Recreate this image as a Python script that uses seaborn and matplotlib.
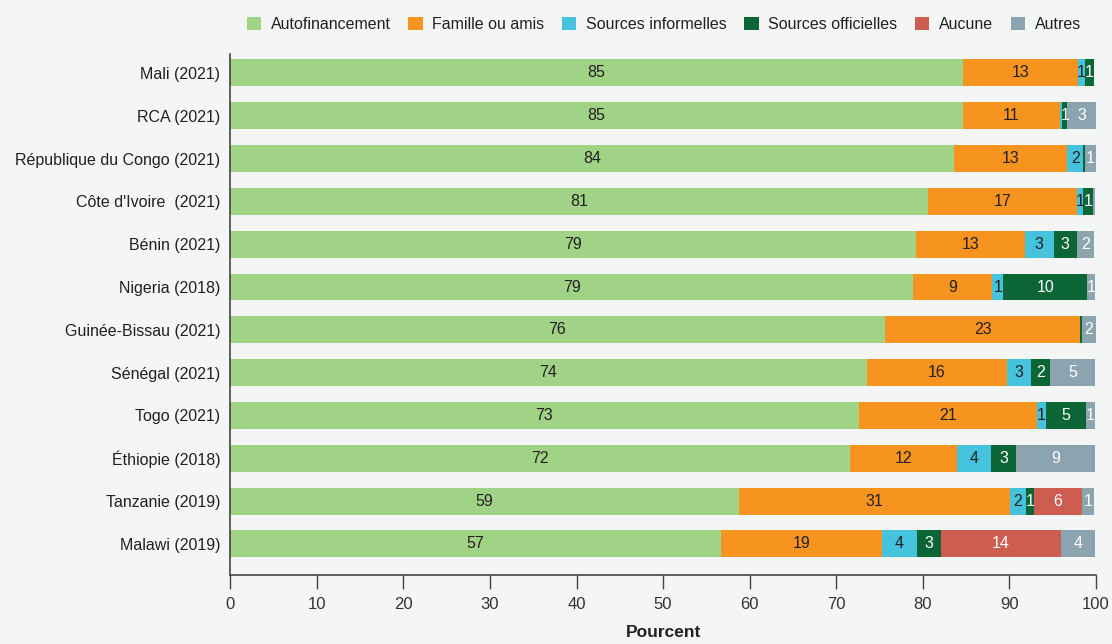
import numpy as np
import pandas as pd
import matplotlib
matplotlib.use("Agg")
import matplotlib.pyplot as plt
import seaborn as sns
from matplotlib.patches import Patch

countries = ["Mali (2021)", "RCA (2021)", "République du Congo (2021)", "Côte d'Ivoire  (2021)",
             "Bénin (2021)", "Nigeria (2018)", "Guinée-Bissau (2021)", "Sénégal (2021)",
             "Togo (2021)", "Éthiopie (2018)", "Tanzanie (2019)", "Malawi (2019)"]
series = ["Autofinancement", "Famille ou amis", "Sources informelles",
          "Sources officielles", "Aucune", "Autres"]
autofinancement = [84.6, 84.6, 83.6, 80.6, 79.2, 78.9, 75.6, 73.5, 72.6, 71.6, 58.8, 56.7]
famille = [13.3, 11.2, 13.1, 17.2, 12.6, 9.1, 22.6, 16.2, 20.6, 12.4, 31.3, 18.6]
informelles = [0.8, 0.3, 1.8, 0.7, 3.3, 1.3, 0.0, 2.8, 1.0, 3.9, 1.8, 4.0]
officielles = [1.1, 0.6, 0.2, 1.2, 2.7, 9.7, 0.2, 2.2, 4.6, 2.9, 0.9, 2.8]
aucune = [0.0, 0.0, 0.0, 0.0, 0.0, 0.0, 0.0, 0.0, 0.0, 0.0, 5.6, 13.9]
autres = [0.0, 3.3, 1.3, 0.2, 2.0, 0.9, 1.6, 5.2, 1.1, 9.1, 1.4, 3.9]

colors = ["#a0d386", "#f7941f", "#45c3dc", "#0b6535", "#cd5c51", "#8ca3b0"]
text_colors = ["#231f20", "#231f20", "#231f20", "white", "white", "white"]

values = np.array([autofinancement, famille, informelles, officielles, aucune, autres])
ends = values.cumsum(axis=0)
starts = ends - values

bg = "#f4f6f5"
sns.set_theme(style="white")
plt.rcParams["font.family"] = ["Liberation Sans", "DejaVu Sans"]

fig = plt.figure(figsize=(11.12, 6.44), dpi=100, facecolor=bg)
ax = fig.add_axes([0.207, 0.107, 0.7786, 0.8096])
ax.set_facecolor(bg)

for i in range(len(series) - 1, -1, -1):
    df = pd.DataFrame({"pays": countries, "val": ends[i]})
    sns.barplot(data=df, x="val", y="pays", color=colors[i], orient="h",
                width=0.63, ax=ax, saturation=1, edgecolor="none")

for i in range(len(series)):
    for j in range(len(countries)):
        v = values[i, j]
        if v >= 0.5:
            ax.text((starts[i, j] + ends[i, j]) / 2, j, f"{int(np.floor(v + 0.5))}",
                    ha="center", va="center", fontsize=11.5, color=text_colors[i])

ax.set_xlim(0, 100)
ax.set_ylim(11.73, -0.45)
ax.set_xticks(range(0, 101, 10))
ax.set_xlabel("Pourcent", fontsize=12.5, fontweight="bold", color="#231f20", labelpad=9)
ax.set_ylabel("")
ax.tick_params(axis="x", direction="out", length=10, width=1, color="#444444",
               labelsize=12, labelcolor="#333333", pad=6, bottom=True)
ax.tick_params(axis="y", length=0, labelsize=11.5, labelcolor="#231f20", pad=7)
for s in ["top", "right"]:
    ax.spines[s].set_visible(False)
for s in ["left", "bottom"]:
    ax.spines[s].set_color("#444444")
    ax.spines[s].set_linewidth(1.2)

handles = [Patch(facecolor=c, edgecolor="none") for c in colors]
fig.legend(handles, series, loc="center", bbox_to_anchor=(0.597, 0.962), ncol=6,
           frameon=False, fontsize=11.5, handlelength=0.9, handleheight=0.9,
           handletextpad=0.6, columnspacing=1.1, labelcolor="#231f20")

fig.savefig("out.png", dpi=100, facecolor=bg)
